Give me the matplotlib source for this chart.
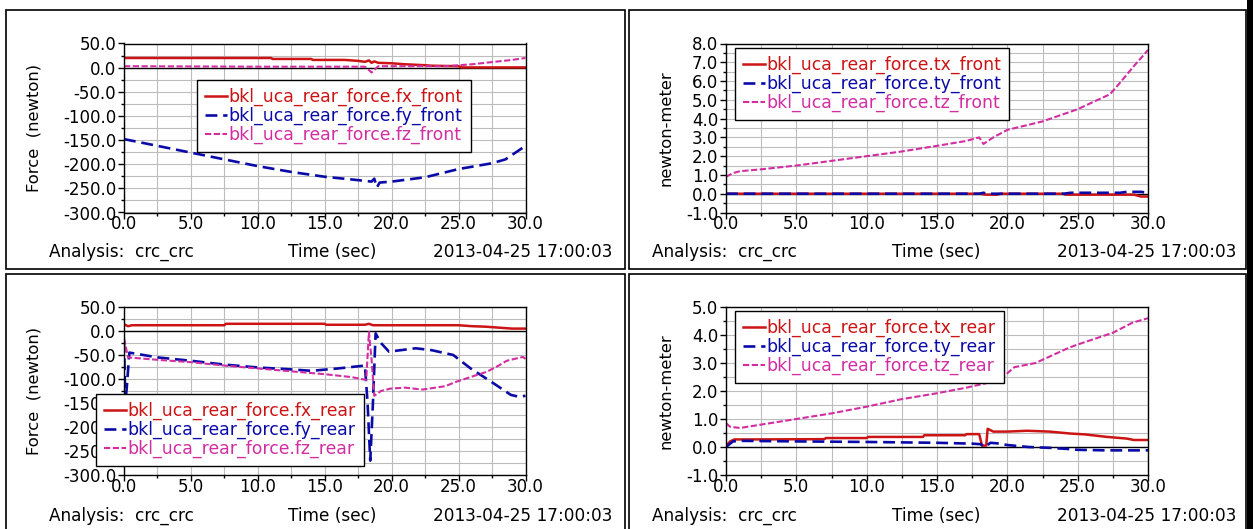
import matplotlib
matplotlib.use("Agg")
import matplotlib.pyplot as plt
from matplotlib.patches import Rectangle
from matplotlib.ticker import MultipleLocator, FormatStrFormatter

plt.rcParams['font.family'] = ['DejaVu Sans']

# ---------------- data ----------------
# top-left: forces front
fx_front_t = [0, 11, 11.1, 14, 14.1, 16.5, 17.5, 18.0, 18.3, 18.5, 18.7, 19.0, 20, 21, 22.5, 23, 25, 25.2, 30]
fx_front = [20, 20, 18, 18, 16, 16, 14, 12, 15, 10, 13, 10, 9, 7, 5, 4, 3, 0.5, 0.5]
fy_front_t = [0, 2.5, 5, 7.5, 10, 12.5, 15, 17.5, 18.5, 18.7, 18.9, 19.1, 20, 22.5, 25, 27.5, 28.5, 30]
fy_front = [-148, -162, -176, -190, -204, -216, -226, -233, -236, -230, -248, -238, -236, -227, -210, -198, -190, -162]
fz_front_t = [0, 5, 10, 15, 18.0, 18.3, 18.5, 18.7, 19.0, 20, 24, 25, 26, 27, 28, 29, 30]
fz_front = [3, 2.5, 2, 2, 2, -5, -10, -5, 3, 3, 3, 5, 7, 10, 13, 16, 20]

# top-right: torques front
tx_front_t = [0, 18, 18.5, 19.3, 19.5, 24, 24.1, 29, 29.5, 30]
tx_front = [0, 0, -0.05, -0.05, 0, 0, -0.05, -0.05, -0.15, -0.15]
ty_front_t = [0, 18, 18.3, 18.6, 24, 24.5, 28, 28.5, 29.5, 30]
ty_front = [0, 0, 0.05, 0, 0, 0.05, 0.05, 0.1, 0.1, 0.05]
tz_front_t = [0, 0.5, 1, 2.5, 5, 7.5, 10, 12.5, 15, 17, 18, 18.3, 18.6, 19, 20, 22.5, 25, 26, 27.3, 28, 29, 30]
tz_front = [0.9, 1.1, 1.2, 1.3, 1.5, 1.75, 2.0, 2.25, 2.55, 2.8, 3.0, 2.65, 2.8, 3.0, 3.4, 3.85, 4.5, 4.85, 5.3, 5.9, 6.8, 7.65]

# bottom-left: forces rear
fx_rear_t = [0, 0.3, 0.6, 1, 7.5, 7.6, 15, 15.1, 18, 18.3, 18.6, 19, 25, 26, 27, 28, 29, 30]
fx_rear = [14, 10, 12, 12, 12, 15, 15, 13, 13, 15, 12, 12, 12, 10, 9, 7, 5, 5]
fy_rear_t = [0, 0.1, 0.2, 0.4, 2.5, 5, 7.5, 10, 12.5, 14, 16, 18.0, 18.2, 18.4, 18.6, 18.8, 19.2, 19.8, 21.8, 23, 24.6, 25.9, 27.4, 28.9, 29.5, 30]
fy_rear = [-20, -150, -120, -45, -55, -62, -70, -76, -80, -83, -78, -72, -150, -270, -150, -5, -25, -43, -36, -40, -50, -78, -105, -133, -137, -135]
fz_rear_t = [0, 0.3, 2.5, 5, 7.5, 10, 12.5, 15, 17, 18.1, 18.3, 18.5, 18.7, 19.2, 19.9, 21, 22.3, 24, 24.8, 26, 27.1, 28, 28.6, 29.8, 30]
fz_rear = [-15, -55, -60, -65, -72, -78, -84, -90, -96, -102, -2, -60, -135, -125, -120, -118, -122, -115, -106, -95, -85, -72, -62, -54, -58]

# bottom-right: torques rear
tx_rear_t = [0, 0.3, 0.6, 1.5, 7, 7.1, 10, 10.1, 14, 14.1, 17, 17.1, 18.0, 18.2, 18.5, 18.6, 19, 20, 21.4, 23, 24.5, 25.5, 27.1, 28.5, 29, 30]
tx_rear = [0.05, 0.2, 0.27, 0.27, 0.28, 0.32, 0.32, 0.36, 0.36, 0.42, 0.42, 0.46, 0.46, 0.05, 0.05, 0.65, 0.55, 0.55, 0.58, 0.55, 0.48, 0.45, 0.36, 0.3, 0.25, 0.25]
ty_rear_t = [0, 0.5, 1, 5, 10, 15, 17.5, 18.1, 18.4, 18.8, 19.5, 20, 21.5, 23, 24.3, 25, 27, 30]
ty_rear = [0, 0.2, 0.22, 0.2, 0.18, 0.15, 0.12, 0.1, 0.0, 0.15, 0.12, 0.07, 0.0, -0.03, -0.07, -0.1, -0.12, -0.12]
tz_rear_t = [0, 0.3, 1, 2.5, 5, 7.5, 10, 12.4, 15, 17.1, 18.5, 19.5, 20.5, 22, 24.4, 25, 27.5, 28.9, 30]
tz_rear = [0.85, 0.72, 0.68, 0.8, 1.0, 1.2, 1.44, 1.7, 1.92, 2.12, 2.28, 2.42, 2.85, 3.0, 3.55, 3.66, 4.08, 4.44, 4.6]

x_ticks = [0, 5, 10, 15, 20, 25, 30]
analysis_text = "Analysis:  crc_crc"
time_label = "Time (sec)"
date_text = "2013-04-25 17:00:03"

# ---------------- style ----------------
W, H = 1253, 529
RED = '#cc1414'
BLUE = '#0a0aa8'
MAG = '#d22ea2'
GRID = '#bdbdbd'

fig = plt.figure(figsize=(W / 100, H / 100), dpi=100)

def fx(px):
    return px / W

def fy(py):
    return 1 - py / H

def make_axes(l, r, t, b):
    return fig.add_axes([fx(l), fy(b), fx(r - l), (b - t) / H])

panels = [
    dict(box=(124, 525.5, 43.5, 212.5), ylim=(-300, 50), major=50, minor=25,
         ylabel="Force  (newton)", ylx=34,
         series=[(fx_front_t, fx_front, "bkl_uca_rear_force.fx_front"),
                 (fy_front_t, fy_front, "bkl_uca_rear_force.fy_front"),
                 (fz_front_t, fz_front, "bkl_uca_rear_force.fz_front")],
         leg=(197, 80), txt_y=252, txt_x=(49, 332, 612)),
    dict(box=(726, 1148, 43.5, 212.5), ylim=(-1, 8), major=1, minor=0.5,
         ylabel="newton-meter", ylx=666,
         series=[(tx_front_t, tx_front, "bkl_uca_rear_force.tx_front"),
                 (ty_front_t, ty_front, "bkl_uca_rear_force.ty_front"),
                 (tz_front_t, tz_front, "bkl_uca_rear_force.tz_front")],
         leg=(735, 48), txt_y=252, txt_x=(652, 936, 1236)),
    dict(box=(124, 525.5, 307, 475), ylim=(-300, 50), major=50, minor=25,
         ylabel="Force  (newton)", ylx=34,
         series=[(fx_rear_t, fx_rear, "bkl_uca_rear_force.fx_rear"),
                 (fy_rear_t, fy_rear, "bkl_uca_rear_force.fy_rear"),
                 (fz_rear_t, fz_rear, "bkl_uca_rear_force.fz_rear")],
         leg=(96, 394), txt_y=516, txt_x=(49, 332, 612)),
    dict(box=(726, 1148, 307, 475), ylim=(-1, 5), major=1, minor=0.5,
         ylabel="newton-meter", ylx=666,
         series=[(tx_rear_t, tx_rear, "bkl_uca_rear_force.tx_rear"),
                 (ty_rear_t, ty_rear, "bkl_uca_rear_force.ty_rear"),
                 (tz_rear_t, tz_rear, "bkl_uca_rear_force.tz_rear")],
         leg=(735, 311), txt_y=516, txt_x=(652, 936, 1236)),
]

styles = [
    dict(color=RED, lw=1.8, linestyle='-'),
    dict(color=BLUE, lw=1.9, linestyle=(0, (4.5, 2.2))),
    dict(color=MAG, lw=1.5, linestyle=(0, (3.0, 1.2))),
]

# panel frames
for (l, t, r, b) in [(6, 10, 625, 269), (629, 10, 1246, 269),
                     (6, 274, 625, 533), (629, 274, 1246, 533)]:
    fig.patches.append(Rectangle((fx(l), fy(b)), fx(r - l), (b - t) / H,
                                 transform=fig.transFigure, fill=False,
                                 edgecolor='black', lw=1.2))
fig.patches.append(Rectangle((fx(1247), 0), fx(6), 1, transform=fig.transFigure,
                             facecolor='black', edgecolor='none'))

for p in panels:
    l, r, t, b = p['box']
    ax = make_axes(l, r, t, b)
    ax.set_xlim(0, 30)
    ax.set_ylim(*p['ylim'])
    ax.xaxis.set_major_locator(MultipleLocator(5))
    ax.xaxis.set_minor_locator(MultipleLocator(2.5))
    ax.yaxis.set_major_locator(MultipleLocator(p['major']))
    ax.yaxis.set_minor_locator(MultipleLocator(p['minor']))
    ax.xaxis.set_major_formatter(FormatStrFormatter('%.1f'))
    ax.yaxis.set_major_formatter(FormatStrFormatter('%.1f'))
    ax.grid(True, which='both', color=GRID, lw=0.8)
    ax.set_axisbelow(True)
    ax.tick_params(axis='both', which='major', direction='out', length=4.5,
                   width=1, labelsize=12, colors='black')
    ax.tick_params(axis='both', which='minor', direction='out', length=2.5, width=1)
    ax.tick_params(axis='x', which='major', pad=-2.6)
    ax.tick_params(axis='y', which='major', pad=1.0)
    for s in ax.spines.values():
        s.set_color('black')
        s.set_linewidth(1.0)
    ax.axhline(0, color='black', lw=1.0, zorder=1.5)
    handles = []
    for (tt, vv, lab), st in zip(p['series'], styles):
        h, = ax.plot(tt, vv, label=lab, zorder=2, **st)
        handles.append(h)
    lx, ly = p['leg']
    leg = ax.legend(handles=handles, loc='upper left',
                    bbox_to_anchor=(fx(lx), fy(ly)), bbox_transform=fig.transFigure,
                    borderaxespad=0, fontsize=12.4, frameon=True, fancybox=False,
                    framealpha=1, edgecolor='black', borderpad=0.45,
                    labelspacing=0.05, handlelength=1.3, handletextpad=0.1)
    leg.get_frame().set_linewidth(1.0)
    for txt, st in zip(leg.get_texts(), styles):
        txt.set_color(st['color'])
    leg.set_zorder(5)
    # y label
    fig.text(fx(p['ylx']), fy((t + b) / 2), p['ylabel'], rotation=90,
             ha='center', va='center', fontsize=11.8)
    # bottom info texts
    x1, x2, x3 = p['txt_x']
    yy = fy(p['txt_y'])
    fig.text(fx(x1), yy, analysis_text, ha='left', va='center', fontsize=12.2)
    fig.text(fx(x2), yy, time_label, ha='center', va='center', fontsize=12.2)
    fig.text(fx(x3), yy, date_text, ha='right', va='center', fontsize=12.2)

fig.savefig("out.png", dpi=100, facecolor='white')
